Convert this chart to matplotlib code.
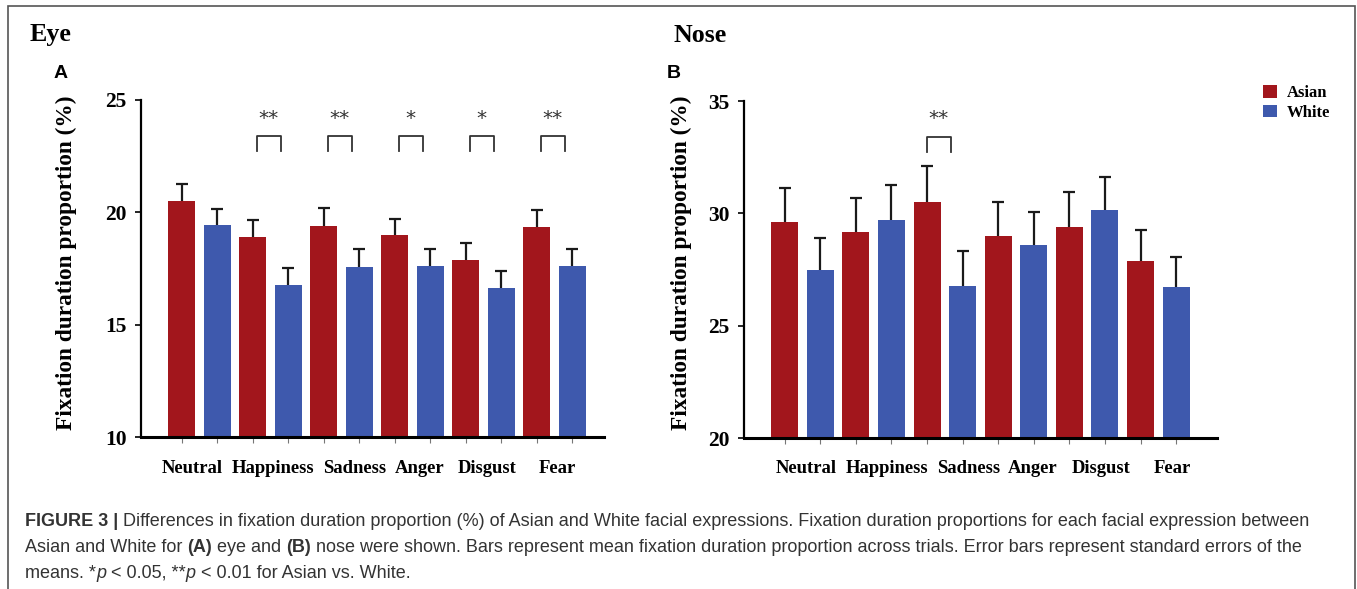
import matplotlib
matplotlib.use("Agg")
import matplotlib.pyplot as plt
from matplotlib.patches import Patch, Rectangle
import numpy as np

categories = ["Neutral", "Happiness", "Sadness", "Anger", "Disgust", "Fear"]
groups = ["Asian", "White"]

eye_asian = [20.50, 18.88, 19.39, 18.97, 17.86, 19.34]
eye_white = [19.41, 16.77, 17.58, 17.61, 16.65, 17.61]
eye_asian_se = [0.76, 0.77, 0.78, 0.74, 0.75, 0.77]
eye_white_se = [0.74, 0.74, 0.80, 0.74, 0.72, 0.77]
eye_sig = ["", "**", "**", "*", "*", "**"]

nose_asian = [29.61, 29.17, 30.49, 28.99, 29.39, 27.88]
nose_white = [27.46, 29.72, 26.78, 28.58, 30.16, 26.72]
nose_asian_se = [1.53, 1.51, 1.63, 1.50, 1.54, 1.38]
nose_white_se = [1.44, 1.53, 1.53, 1.50, 1.44, 1.35]
nose_sig = ["", "", "**", "", "", ""]

RED = "#A2161C"
BLUE = "#3E59AD"
SERIF = "Liberation Serif"
SANS = "Liberation Sans"

W, H = 1357, 589
fig = plt.figure(figsize=(W / 100, H / 100), dpi=100)


def fx(px):
    return px / W


def fy(py):
    return 1 - py / H


def draw_panel(rect, asian, white, asian_se, white_se, sig, ylim, yticks,
               xlim, bracket, shift, label_shift):
    ax = fig.add_axes(rect)
    n = len(categories)
    xa = np.arange(n) * 2
    xw = xa + 1
    wbar = 0.76
    ax.bar(xa, asian, width=wbar, color=RED, zorder=2)
    ax.bar(xw, white, width=wbar, color=BLUE, zorder=2)
    for xs, ys, es in ((xa, asian, asian_se), (xw, white, white_se)):
        ys = np.array(ys)
        es = np.array(es)
        ax.vlines(xs, ys, ys + es, color="#1a1a1a", lw=1.6, zorder=3)
        ax.plot(xs, ys + es, ls="none", marker="_", ms=8, mew=1.6,
                color="#1a1a1a", zorder=3)
    # significance brackets
    top, leg, star_y = bracket
    for i, s in enumerate(sig):
        if not s:
            continue
        x0 = xa[i] + shift
        x1 = x0 + 0.66
        ax.plot([x0, x0, x1, x1], [leg, top, top, leg], color="#333333",
                lw=1.3, clip_on=False)
        ax.text((x0 + x1) / 2, star_y, s, ha="center", va="center",
                fontsize=14.5, family="DejaVu Sans", color="#333333")
    ax.set_ylim(*ylim)
    ax.set_xlim(*xlim)
    ax.set_yticks(yticks)
    ax.set_yticklabels([str(t) for t in yticks], family=SERIF,
                       fontweight="bold", fontsize=15.5)
    ax.tick_params(axis="y", length=4, width=1.2, pad=6)
    ax.set_xticks(xa + 0.5 + np.array(label_shift))
    ax.set_xticklabels(categories, family=SERIF, fontweight="bold",
                       fontsize=13.4)
    ax.tick_params(axis="x", which="major", length=0, pad=16)
    ax.set_xticks(np.concatenate([xa, xw]), minor=True)
    ax.tick_params(axis="x", which="minor", length=4, width=0.8,
                   color="#777777")
    for sp in ("top", "right"):
        ax.spines[sp].set_visible(False)
    ax.spines["left"].set_linewidth(1.6)
    ax.spines["bottom"].set_linewidth(2.2)
    return ax


axA = draw_panel([fx(140.7), fy(437.3), fx(603.6) - fx(140.7), fy(99.5) - fy(437.3)],
                 eye_asian, eye_white, eye_asian_se, eye_white_se, eye_sig,
                 (10, 25), [10, 15, 20, 25], (-1.16, 11.88),
                 (23.40, 22.70, 24.15), 0.12,
                 [-0.2, 0.07, 0.37, 0.19, 0.11, 0.08])
axB = draw_panel([fx(743.5), fy(438), fx(1217) - fx(743.5), fy(101) - fy(438)],
                 nose_asian, nose_white, nose_asian_se, nose_white_se, nose_sig,
                 (20, 35), [20, 25, 30, 35], (-1.16, 12.15),
                 (33.40, 32.72, 34.2), 0.0,
                 [0.09, 0.37, 0.68, 0.48, 0.39, 0.38])

# titles, panel letters, y labels
fig.text(fx(30), fy(35), "Eye", family=SERIF, fontweight="bold", fontsize=18.7,
         va="center", ha="left")
fig.text(fx(673), fy(35), "Nose", family=SERIF, fontweight="bold", fontsize=18.7,
         va="center", ha="left")
fig.text(fx(54), fy(73), "A", family=SANS, fontweight="bold", fontsize=14,
         va="center", ha="left")
fig.text(fx(667), fy(73), "B", family=SANS, fontweight="bold", fontsize=14,
         va="center", ha="left")
for xl in (66, 681):
    fig.text(fx(xl), fy(263), "Fixation duration proportion (%)", family=SERIF,
             fontweight="bold", fontsize=16.8, rotation=90, va="center",
             ha="center")

handles = [Patch(facecolor=RED), Patch(facecolor=BLUE)]
fig.legend(handles, groups, loc="upper left", bbox_to_anchor=(fx(1263), fy(85)),
           frameon=False, handlelength=0.85, handleheight=0.8,
           handletextpad=0.6, labelspacing=0.2, borderpad=0, borderaxespad=0,
           prop={"family": SERIF, "weight": "bold", "size": 12})

# frame
fig.patches.append(Rectangle((fx(8), fy(589) - 0.01), fx(1355) - fx(8),
                             fy(6) - fy(589) + 0.01, transform=fig.transFigure,
                             fill=False, edgecolor="#555555", lw=1.2))

# caption
cap_lines = [
    [("FIGURE 3 |", "bold", "normal"),
     (" Differences in fixation duration proportion (%) of Asian and White facial "
      "expressions. Fixation duration proportions for each facial expression between",
      "normal", "normal")],
    [("Asian and White for ", "normal", "normal"), ("(A)", "bold", "normal"),
     (" eye and ", "normal", "normal"), ("(B)", "bold", "normal"),
     (" nose were shown. Bars represent mean fixation duration proportion across "
      "trials. Error bars represent standard errors of the", "normal", "normal")],
    [("means. *", "normal", "normal"), ("p", "normal", "italic"),
     (" < 0.05, **", "normal", "normal"), ("p", "normal", "italic"),
     (" < 0.01 for Asian vs. White.", "normal", "normal")],
]
renderer = fig.canvas.get_renderer()
for k, runs in enumerate(cap_lines):
    x = 25
    y = 526 + 26 * k
    for txt, wt, st in runs:
        t = fig.text(fx(x), fy(y), txt, family=SANS, fontweight=wt, fontstyle=st,
                     fontsize=13.0, color="#333333", va="baseline", ha="left")
        x += t.get_window_extent(renderer).width

fig.savefig("out.png", dpi=100)
